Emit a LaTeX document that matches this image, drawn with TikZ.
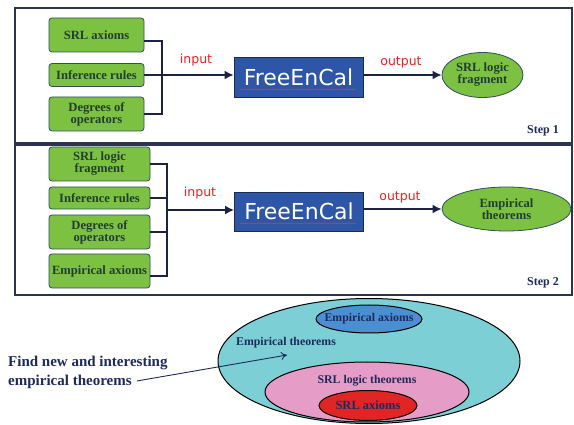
\documentclass[tikz,border=0pt]{standalone}
\usepackage{fontspec}
\setmainfont{Liberation Serif}
\newfontfamily\comicf{DejaVu Sans}
\usetikzlibrary{shapes.geometric,arrows.meta,decorations.pathmorphing}
\definecolor{boxgreen}{HTML}{7DC142}
\definecolor{boxedge}{HTML}{2F4F5F}
\definecolor{boxtext}{HTML}{223D33}
\definecolor{connc}{HTML}{1B2340}
\definecolor{bluefill}{HTML}{2E56A6}
\definecolor{blueedge}{HTML}{1B2A50}
\definecolor{labred}{HTML}{F02020}
\definecolor{framec}{HTML}{2B3450}
\definecolor{cyanfill}{HTML}{7CCFD5}
\definecolor{smallblue}{HTML}{4A8FD2}
\definecolor{pinkfill}{HTML}{E59CC6}
\definecolor{redfill}{HTML}{E02525}
\definecolor{navytext}{HTML}{1F2A5C}
\tikzset{
  gbox/.style={rectangle, rounded corners=3pt, fill=boxgreen, draw=boxedge, line width=0.8pt,
    text=boxtext, font=\bfseries\fontsize{12.6}{13}\selectfont, align=center, inner sep=0pt},
  gell/.style={ellipse, fill=boxgreen, draw=boxedge, line width=0.8pt,
    text=boxtext, font=\bfseries\fontsize{12.6}{13}\selectfont, align=center, inner sep=0pt},
  fcbox/.style={rectangle, fill=bluefill, draw=blueedge, line width=0.8pt, text=white,
    font=\comicf\fontsize{22}{23}\selectfont, inner sep=0pt, minimum width=129pt},
  conn/.style={draw=connc, line width=1.6pt},
  arr/.style={conn, -{Latex[length=9pt,width=9pt]}},
  lab/.style={text=labred, font=\comicf\fontsize{12.5}{13}\selectfont, inner sep=0pt},
  steplab/.style={text=navytext, font=\bfseries\fontsize{12}{13}\selectfont, inner sep=0pt},
  frame/.style={draw=framec, line width=1.1pt},
  venn/.style={draw=black, line width=1pt},
  venntext/.style={text=navytext, font=\bfseries\fontsize{11.8}{13}\selectfont, inner sep=0pt},
  squig/.style={draw=red!80, line width=0.4pt, decorate, decoration={snake, amplitude=0.6pt, segment length=3pt}}
}
\begin{document}
\begin{tikzpicture}[x=1pt,y=-1pt]
\useasboundingbox[fill=white] (0,0) rectangle (574,425);
% frames
\draw[frame] (15,8) rectangle (572,143);
\draw[frame] (15,145) rectangle (572,295);

% ---- Step 1 ----
\node[gbox, minimum width=95pt, minimum height=34pt] (a1) at (96.5,35) {SRL axioms};
\node[gbox, minimum width=95pt, minimum height=23pt] (a2) at (96.5,75) {Inference rules};
\node[gbox, minimum width=95pt, minimum height=34pt] (a3) at (96.5,114) {Degrees of\\[-1pt]operators};
\coordinate (j1) at (162,75);
\node[fcbox, minimum height=40pt] (fc1) at (298.5,77) {FreeEnCal};
\node[gell, minimum width=81pt, minimum height=45pt] (e1) at (482.5,75) {SRL logic\\[-1pt]fragment};
\draw[conn] ([yshift=-6pt]a1.east) -| (j1) |- (a3.east);
\draw[arr] (a2.east) -- (a2.east -| fc1.west);
\draw[arr] (fc1.east |- e1.west) -- (e1.west);
\node[lab] (in1) at (196,60) {input};
\node[lab] (out1) at (401,62) {output};
\node[steplab] (st1) at (543,131) {Step 1};
\draw[squig] ([xshift=6pt,yshift=8pt]fc1.south west) -- ([xshift=-8pt,yshift=8pt]fc1.south east);

% ---- Step 2 ----
\node[gbox, minimum width=101pt, minimum height=34pt] (b1) at (99.5,164) {SRL logic\\[-1pt]fragment};
\node[gbox, minimum width=101pt, minimum height=22pt] (b2) at (99.5,198) {Inference rules};
\node[gbox, minimum width=101pt, minimum height=34pt] (b3) at (99.5,232) {Degrees of\\[-1pt]operators};
\node[gbox, minimum width=101pt, minimum height=34pt] (b4) at (99.5,271) {Empirical axioms};
\coordinate (j2) at (167,210);
\node[fcbox, minimum height=39pt] (fc2) at (299,211.5) {FreeEnCal};
\node[gell, minimum width=129pt, minimum height=44pt] (e2) at (506.5,209) {Empirical\\[-1pt]theorems};
\draw[conn] (b1.east) -| (j2) |- ([yshift=-5pt]b4.east);
\draw[conn] (b2.east) -- (b2.east -| j2);
\draw[conn] (b3.east) -- (b3.east -| j2);
\draw[arr] (j2) -- (j2 -| fc2.west);
\draw[arr] (fc2.east |- e2.west) -- (e2.west);
\node[lab] (in2) at (200,193) {input};
\node[lab] (out2) at (400,197) {output};
\node[steplab] (st2) at (543,283) {Step 2};
\draw[squig] ([xshift=6pt,yshift=8pt]fc2.south west) -- ([xshift=-8pt,yshift=8pt]fc2.south east);

% ---- Venn ----
\draw[venn, fill=cyanfill] (369,361) ellipse [x radius=151, y radius=62.5];
\draw[venn, fill=smallblue] (369,319) ellipse [x radius=53, y radius=14];
\draw[venn, fill=pinkfill] (367,392) ellipse [x radius=102, y radius=30];
\draw[venn, fill=redfill] (368,405.5) ellipse [x radius=49, y radius=15];
\node[venntext] (tea) at (369,319) {Empirical axioms};
\node[venntext] (tet) at (286,343) {Empirical theorems};
\node[venntext] (tslt) at (367,381) {SRL logic theorems};
\node[venntext, font=\bfseries\fontsize{12.5}{13}\selectfont] (tsa) at (368,405) {SRL axioms};
\coordinate (tgt) at (287,355);
\node[anchor=west, text=navytext, font=\bfseries\fontsize{15}{16}\selectfont, inner sep=0pt] (f1) at (8,363) {Find new and interesting};
\node[anchor=west, text=navytext, font=\bfseries\fontsize{15}{16}\selectfont, inner sep=0pt] (f2) at (8,382) {empirical theorems};
\draw[draw=navytext, line width=0.9pt, -{To[length=6pt,width=8pt]}] ([xshift=5pt,yshift=1pt]f2.east) -- (tgt);
\end{tikzpicture}
\end{document}
